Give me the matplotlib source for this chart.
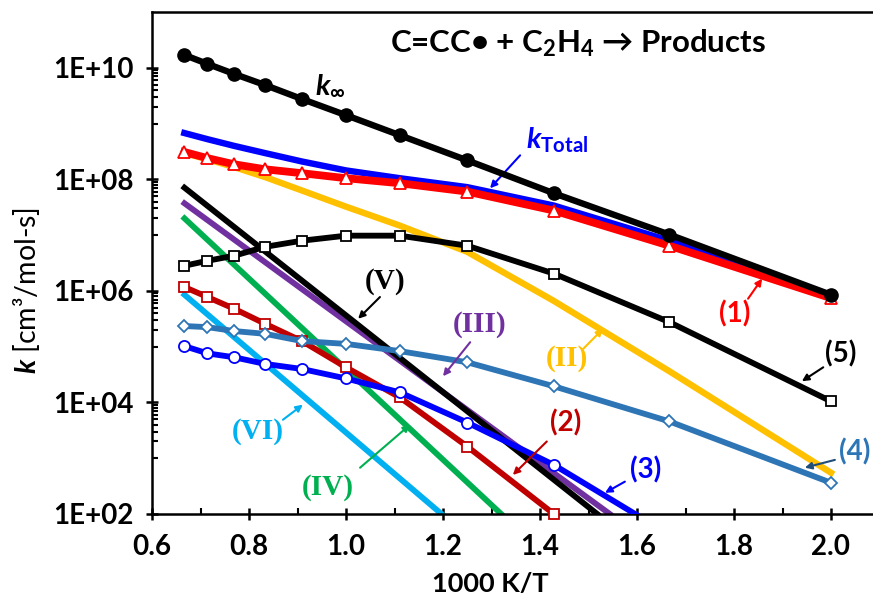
import numpy as np
import matplotlib
matplotlib.use("Agg")
import matplotlib.pyplot as plt
from matplotlib.ticker import FixedLocator, NullFormatter, FuncFormatter

plt.rcParams['font.family'] = ['Lato', 'DejaVu Sans']
plt.rcParams['mathtext.fontset'] = 'custom'
plt.rcParams['mathtext.it'] = 'Lato:italic:bold'
plt.rcParams['mathtext.rm'] = 'Lato:bold'
plt.rcParams['mathtext.bf'] = 'Lato:bold'

# ---- data (log10 of k, cm3/mol-s) ----
T = [1500, 1400, 1300, 1200, 1100, 1000, 900, 800, 700, 600, 500]
x_T = [1000.0 / t for t in T]

log_k_inf = [10.23, 10.07, 9.89, 9.69, 9.44, 9.15, 8.79, 8.34, 7.75, 7.01, 5.93]
log_k_total = [8.83, 8.72, 8.60, 8.47, 8.32, 8.16, 8.02, 7.86, 7.53, 6.90, 5.91]
log_k1 = [8.49, 8.38, 8.27, 8.18, 8.11, 8.02, 7.93, 7.78, 7.44, 6.81, 5.87]
log_kII = [8.47, 8.36, 8.22, 8.04, 7.80, 7.51, 7.17, 6.70, 5.82, 4.56, 2.74]
log_k5 = [6.45, 6.54, 6.63, 6.79, 6.90, 6.99, 6.99, 6.81, 6.31, 5.44, 4.02]
log_k4 = [5.37, 5.35, 5.28, 5.23, 5.10, 5.05, 4.92, 4.72, 4.29, 3.66, 2.56]
log_k2 = [6.07, 5.89, 5.68, 5.41, 5.10, 4.63, 4.09, 3.21, 2.0]
log_k3 = [5.01, 4.88, 4.81, 4.69, 4.60, 4.43, 4.18, 3.64, 2.88, 1.63]

x_III = [0.667, 1.544]; log_kIII = [7.57, 2.0]
x_V = [0.667, 1.518];   log_kV = [7.85, 2.0]
x_IV = [0.667, 1.320];  log_kIV = [7.30, 2.0]
x_VI = [0.667, 1.197];  log_kVI = [5.93, 2.0]

y_major = [1e2, 1e4, 1e6, 1e8, 1e10]
x_major = [0.6, 0.8, 1.0, 1.2, 1.4, 1.6, 1.8, 2.0]

def K(v):
    return [10.0 ** a for a in v]

C_RED = '#FF0000'
C_DRED = '#C00000'
C_BLUE = '#0000FF'
C_STEEL = '#2E75B6'
C_ORANGE = '#FFC000'
C_PURPLE = '#7030A0'
C_GREEN = '#00B050'
C_LBLUE = '#00B0F0'

fig = plt.figure(figsize=(8.73, 5.94), dpi=100)
ax = fig.add_axes([152/873, 80/594, 1.5*485/873, 502/594])
ax.set_yscale('log')
ax.set_xlim(0.6, 2.1)
ax.set_ylim(1e2, 1e11)

LW = 4.2
# straight channel lines
ax.plot(x_VI, K(log_kVI), color=C_LBLUE, lw=LW, zorder=2)
ax.plot(x_IV, K(log_kIV), color=C_GREEN, lw=LW, zorder=2)
ax.plot(x_III, K(log_kIII), color=C_PURPLE, lw=LW, zorder=2)
ax.plot(x_V, K(log_kV), color='black', lw=LW, zorder=2.1)
ax.plot(x_T, K(log_kII), color=C_ORANGE, lw=LW + 0.4, zorder=2)

mk = dict(markerfacecolor='white', markeredgewidth=1.3)
ax.plot(x_T[:len(log_k2)], K(log_k2), color=C_DRED, lw=LW, marker='s', ms=7.5,
        markeredgecolor=C_DRED, clip_on=False, zorder=3, **mk)
ax.plot(x_T[:len(log_k3)], K(log_k3), color=C_BLUE, lw=LW, marker='o', ms=8,
        markeredgecolor=C_BLUE, zorder=3, **mk)
ax.plot(x_T, K(log_k4), color=C_STEEL, lw=LW, marker='D', ms=6.5,
        markeredgecolor=C_STEEL, clip_on=False, zorder=3, **mk)
ax.plot(x_T, K(log_k5), color='black', lw=LW, marker='s', ms=7.5,
        markeredgecolor='black', clip_on=False, zorder=3, **mk)
ax.plot(x_T, K(log_k_total), color=C_BLUE, lw=4.6, zorder=3)
ax.plot(x_T, K(log_k1), color=C_RED, lw=5.6, marker='^', ms=8,
        markeredgecolor=C_RED, clip_on=False, zorder=4, **mk)
ax.plot(x_T, K(log_k_inf), color='black', lw=4.6, marker='o', ms=9.5,
        markerfacecolor='black', clip_on=False, zorder=5)

# axes styling
for s in ['left', 'bottom', 'top']:
    ax.spines[s].set_linewidth(1.8)
ax.spines['right'].set_visible(False)

ax.xaxis.set_major_locator(FixedLocator(x_major))
ax.xaxis.set_minor_locator(FixedLocator([0.7, 0.9, 1.1, 1.3, 1.5, 1.7, 1.9, 2.1]))
ax.xaxis.set_major_formatter(FuncFormatter(lambda v, p: f'{v:.1f}'))
ax.yaxis.set_major_locator(FixedLocator(y_major))
minor_y = [m * 10.0 ** (n + 1) for n in (2, 4, 6, 8) for m in range(1, 10)]
ax.yaxis.set_minor_locator(FixedLocator(minor_y))
ax.yaxis.set_minor_formatter(NullFormatter())
ax.yaxis.set_major_formatter(FuncFormatter(lambda v, p: '1E+%02d' % int(round(np.log10(v)))))

ax.tick_params(axis='both', which='major', direction='inout', length=9, width=1.8,
               labelsize=20)
ax.tick_params(axis='both', which='minor', direction='in', length=4.5, width=1.5)
ax.tick_params(axis='x', which='major', pad=10)
ax.tick_params(axis='y', which='major', pad=9)
for lab in ax.get_xticklabels() + ax.get_yticklabels():
    lab.set_fontweight('bold')

ax.set_xlabel('1000 K/T', fontsize=19.5, fontweight='bold')
ax.xaxis.set_label_coords((490 - 152) / (1.5 * 485), -0.115)
ax.set_ylabel('$k$ [cm³/mol-s]', fontsize=20.5)
ax.yaxis.set_label_coords(-0.151, 0.445)

# title
ax.text(1.478, 10 ** 10.45, 'C=CC• + C$_2$H$_4$ → Products', fontsize=22.5,
        fontweight='bold', ha='center', va='center',
        family=['Lato', 'DejaVu Sans'])

# k labels
ax.text(0.967, 10 ** 9.68, r'$k_{\infty}$', fontsize=21, ha='center', va='center')
ax.text(1.435, 10 ** 8.70, r'$k_{\mathbf{Total}}$', fontsize=21, color=C_BLUE,
        ha='center', va='center')

def arrow(tail, head, col):
    ax.annotate('', xy=(head[0], 10 ** head[1]), xytext=(tail[0], 10 ** tail[1]),
                annotation_clip=False,
                arrowprops=dict(arrowstyle='-|>', color=col, lw=1.5,
                                mutation_scale=10, shrinkA=0, shrinkB=0))

arrow((1.359, 8.43), (1.297, 7.84), C_BLUE)

# (label, font, colour, text pos, arrow tail, arrow head)
labels = [
    ('(1)', 'sans', C_RED, (1.802, 5.59), (1.829, 5.86), (1.858, 6.22)),
    ('(2)', 'sans', C_DRED, (1.452, 3.64), (1.414, 3.30), (1.344, 2.70)),
    ('(3)', 'sans', C_BLUE, (1.617, 2.79), (1.575, 2.58), (1.534, 2.38)),
    ('(4)', 'sans', C_STEEL, (2.049, 3.12), (2.008, 2.97), (1.946, 2.83)),
    ('(5)', 'sans', 'black', (2.019, 4.87), (1.984, 4.63), (1.940, 4.38)),
    ('(II)', 'serif', C_ORANGE, (1.456, 4.78), (1.489, 4.96), (1.530, 5.32)),
    ('(III)', 'serif', C_PURPLE, (1.276, 5.39), (1.256, 5.08), (1.200, 4.47)),
    ('(V)', 'serif', 'black', (1.080, 6.16), (1.070, 5.89), (1.025, 5.50)),
    ('(VI)', 'serif', C_LBLUE, (0.819, 3.48), (0.870, 3.69), (0.911, 3.96)),
    ('(IV)', 'serif', C_GREEN, (0.963, 2.47), (1.029, 2.83), (1.132, 3.60)),
]
arrow_col = {'(4)': '#1F4E79'}
for txt, fam, col, tpos, tail, head in labels:
    if fam == 'sans':
        family, fs = ['Lato'], 20
    else:
        family, fs = ['Liberation Serif'], 21
    ax.text(tpos[0], 10 ** tpos[1], txt, fontsize=fs, fontweight='bold', color=col,
            family=family, ha='center', va='center', clip_on=False)
    arrow(tail, head, arrow_col.get(txt, col))

fig.savefig('out.png', dpi=100)
